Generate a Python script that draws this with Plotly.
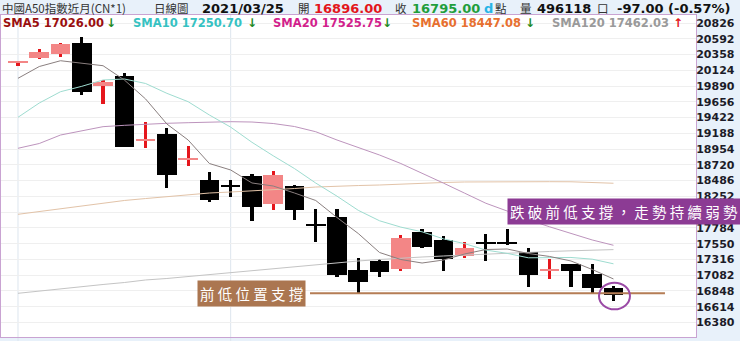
import plotly.graph_objects as go

# ---- daily bars, oldest first (中國A50指數近月) ----
opens  = [20236, 20311, 20366, 20525, 19895, 20039, 19083, 19174, 18795, 18495,
          18418, 18559, 18134, 18406, 17845, 17950, 17159, 17297, 17169, 17719,
          17604, 17371, 17570, 17570, 17422, 17140, 17244, 17100, 16896]
highs  = [20258, 20436, 20525, 20614, 19980, 20079, 19356, 19272, 19000, 18614,
          18495, 18584, 18624, 18421, 18069, 18062, 17342, 17322, 17674, 17768,
          17664, 17575, 17694, 17763, 17481, 17322, 17248, 17248, 16922]
lows   = [20195, 20287, 20317, 19753, 19623, 18985, 18966, 18372, 18703, 18169,
          18238, 17886, 18050, 17901, 17575, 17052, 16815, 17060, 17149, 17481,
          17144, 17342, 17297, 17535, 16902, 17021, 16902, 16813, 16706]
closes = [20246, 20391, 20510, 19806, 19955, 18990, 19098, 18569, 18825, 18198,
          18400, 18099, 18565, 18045, 17808, 17082, 16976, 17134, 17630, 17505,
          17318, 17486, 17538, 17540, 17085, 17172, 17149, 16892, 16795]

# ---- moving averages ----
sma5   = [20005, 20180, 20266, 20225, 20192, 19980, 19698, 19327, 19089, 18740,
          18644, 18451, 18406, 18302, 18191, 17938, 17701, 17419, 17315, 17263,
          17307, 17397, 17463, 17471, 17404, 17360, 17293, 17167, 17026]
sma10  = [19426, 19638, 19806, 19886, 19980, 19995, 19928, 19782, 19658, 19460,
          19280, 19055, 18855, 18665, 18450, 18255, 18045, 17890, 17796, 17726,
          17622, 17550, 17455, 17406, 17340, 17340, 17345, 17320, 17251]
sma20  = [18966, 19037, 19163, 19230, 19287, 19307, 19327, 19337, 19346, 19356,
          19361, 19356, 19334, 19289, 19212, 19089, 18978, 18866, 18740, 18600,
          18450, 18300, 18150, 18035, 17905, 17800, 17705, 17605, 17526]
sma60  = [17986, 18028, 18072, 18117, 18154, 18191, 18220, 18250, 18280, 18302,
          18317, 18332, 18347, 18369, 18391, 18406, 18413, 18421, 18436, 18443,
          18458, 18466, 18469, 18470, 18470, 18470, 18469, 18458, 18447]
sma120 = [16813, 16847, 16885, 16914, 16944, 16973, 17011, 17033, 17063, 17092,
          17122, 17152, 17181, 17211, 17241, 17270, 17293, 17315, 17337, 17352,
          17367, 17382, 17397, 17411, 17422, 17434, 17444, 17453, 17462]

# ---- price axis ----
y_ticks = [16380, 16614, 16848, 17082, 17316, 17550, 17784, 18018, 18252, 18486,
           18720, 18954, 19188, 19422, 19656, 19890, 20124, 20358, 20592, 20826]
y_tick_labels = [str(v) for v in y_ticks]

month_starts = [0, 10]          # bars that open a new month
support_bar = 16                # previous low used as support
last = len(closes) - 1

# ---- header / legend text ----
title_name = "中國A50指數近月(CN*1)"
title_kind = "日線圖"
title_date = "2021/03/25"
volume_text = "496118"
sma_labels = [("SMA5 17026.00", "↓"), ("SMA10 17250.70", "↓"), ("SMA20 17525.75", "↓"),
              ("SMA60 18447.08", "↓"), ("SMA120 17462.03", "↑")]
note_support = "前 低 位 置 支 撐"
note_break = "跌 破 前 低 支 撐 ， 走 勢 持 續 弱 勢"

# ---- geometry ----
W, H = 740, 341
ML, MR, MT, MB = 1, 44, 15, 4
PW, PH = W - ML - MR, H - MT - MB


def px(xp):
    return (xp - ML) / PW


def py(yp):
    return (H - MB - yp) / PH


UP_BODY, UP_WICK, DOWN = "#f38686", "#e5161c", "#000000"
CJK = "Noto Sans CJK TC"
BOLD = "DejaVu Sans"

days = list(range(len(closes)))
body_lo = [min(o, c) for o, c in zip(opens, closes)]
body_h = [max(abs(c - o), 12) for o, c in zip(opens, closes)]
is_up = [c >= o for o, c in zip(opens, closes)]
body_col = [UP_BODY if u else DOWN for u in is_up]
wick_col = [UP_WICK if u else DOWN for u in is_up]

fig = go.Figure()

# wicks
fig.add_trace(go.Bar(x=days, base=lows, y=[h - l for h, l in zip(highs, lows)],
                     width=0.15, marker=dict(color=wick_col, line=dict(width=0)),
                     hoverinfo="skip"))
# bodies
fig.add_trace(go.Bar(x=days, base=body_lo, y=body_h, width=0.92,
                     marker=dict(color=body_col, line=dict(width=0)),
                     hoverinfo="skip"))

# moving-average lines
for vals, col in [(sma120, "#c4c4c4"), (sma60, "#e2c3a8"), (sma20, "#bd94bd"),
                  (sma10, "#9edcd0"), (sma5, "#8a7f7f")]:
    fig.add_trace(go.Scatter(x=days, y=vals, mode="lines",
                             line=dict(color=col, width=1), hoverinfo="skip"))

shapes = []
for m in month_starts:
    shapes.append(dict(type="line", xref="x", yref="paper", x0=m, x1=m,
                       y0=-0.02, y1=1, layer="below",
                       line=dict(color="#dde5ee", width=1)))
# support line at the previous low
shapes.append(dict(type="line", xref="x", yref="y", x0=13.73, x1=30.42,
                   y0=lows[support_bar], y1=lows[support_bar],
                   line=dict(color="#b57d55", width=2)))
# ring around the latest bar
shapes.append(dict(type="circle", xref="x", yref="y", xsizemode="pixel",
                   ysizemode="pixel", xanchor=last, yanchor=lows[last],
                   x0=-14.5, x1=16.5, y0=-8.8, y1=17.8,
                   line=dict(color="#9b4aa6", width=2)))

ann = []


def text_at(x, y, s, color, size, family, bold=False):
    ann.append(dict(xref="paper", yref="paper", x=px(x), y=py(y), text=s,
                    showarrow=False, xanchor="left", yanchor="middle",
                    borderpad=0,
                    font=dict(color=color, size=size, family=family,
                              weight="bold" if bold else "normal")))


# header row
HDR_Y = 8.3
text_at(1, HDR_Y, title_name, "#333333", 11.5, CJK)
text_at(153, HDR_Y, title_kind, "#333333", 11.5, CJK)
text_at(201, HDR_Y, title_date, "#111111", 13, BOLD, True)
text_at(297, HDR_Y, "開", "#333333", 11.5, CJK)
text_at(313, HDR_Y, f"{opens[last]:.2f}", "#e3161b", 13, BOLD, True)
text_at(394, HDR_Y, "收", "#333333", 11.5, CJK)
text_at(411, HDR_Y, f"{closes[last]:.2f}", "#1f9e3c", 13, BOLD, True)
text_at(483, HDR_Y, "d", "#27b4e6", 13, BOLD, True)
text_at(494, HDR_Y, "點", "#333333", 11.5, CJK)
text_at(519, HDR_Y, "量", "#333333", 11.5, CJK)
text_at(536, HDR_Y, volume_text, "#111111", 13, BOLD, True)
text_at(596, HDR_Y, "口", "#333333", 11.5, CJK)
chg = closes[last] - closes[last - 1]
text_at(616, HDR_Y, f"{chg:.2f} ({chg / closes[last - 1] * 100:.2f}%)", "#111111",
        13, BOLD, True)

# moving-average legend row
sma_cols = ["#9a0f0f", "#36c2c2", "#d21f8c", "#e7702f", "#9a9a9a"]
sma_x = [(2, 105), (132, 246), (272, 381), (411, 524), (551, 672)]
for (lab, arr), col, (x0, xa) in zip(sma_labels, sma_cols, sma_x):
    text_at(x0, 23, lab, col, 11.5, BOLD, True)
    text_at(xa, 23, arr, "#e3161b" if arr == "↑" else "#1e8a24", 12, BOLD, True)

# callouts
ann.append(dict(xref="x", yref="y", x=11.0, y=lows[support_bar], text=note_support,
                showarrow=False, xanchor="center", yanchor="middle",
                bgcolor="#ab7650", borderpad=2,
                font=dict(color="white", size=14.5, family=CJK)))
ann.append(dict(xref="paper", yref="paper", x=px(507), y=py(211.7), text=note_break,
                showarrow=False, xanchor="left", yanchor="middle",
                bgcolor="#8c3b94", borderpad=2,
                font=dict(color="white", size=14.5, family=CJK)))

fig.update_layout(
    width=W, height=H, margin=dict(l=ML, r=MR, t=MT, b=MB, pad=0),
    paper_bgcolor="#e8f1fa", plot_bgcolor="white",
    barmode="overlay", bargap=0, showlegend=False,
    shapes=shapes, annotations=ann,
    xaxis=dict(range=[-0.799, 31.88], showticklabels=False, showgrid=False,
               zeroline=False, showline=True, mirror=True,
               linecolor="#c9a3d2", linewidth=1, fixedrange=True),
    yaxis=dict(range=[16164.4, 20944.8], side="right", tickmode="array",
               tickvals=y_ticks, ticktext=y_tick_labels, ticks="",
               ticklabelstandoff=-3,
               showgrid=True, gridcolor="#efefef", gridwidth=1, zeroline=False,
               showline=True, mirror=True, linecolor="#c9a3d2", linewidth=1,
               tickfont=dict(family=BOLD, size=11, color="#1c1c28", weight="bold"),
               fixedrange=True),
)

fig.write_html("out.html")
